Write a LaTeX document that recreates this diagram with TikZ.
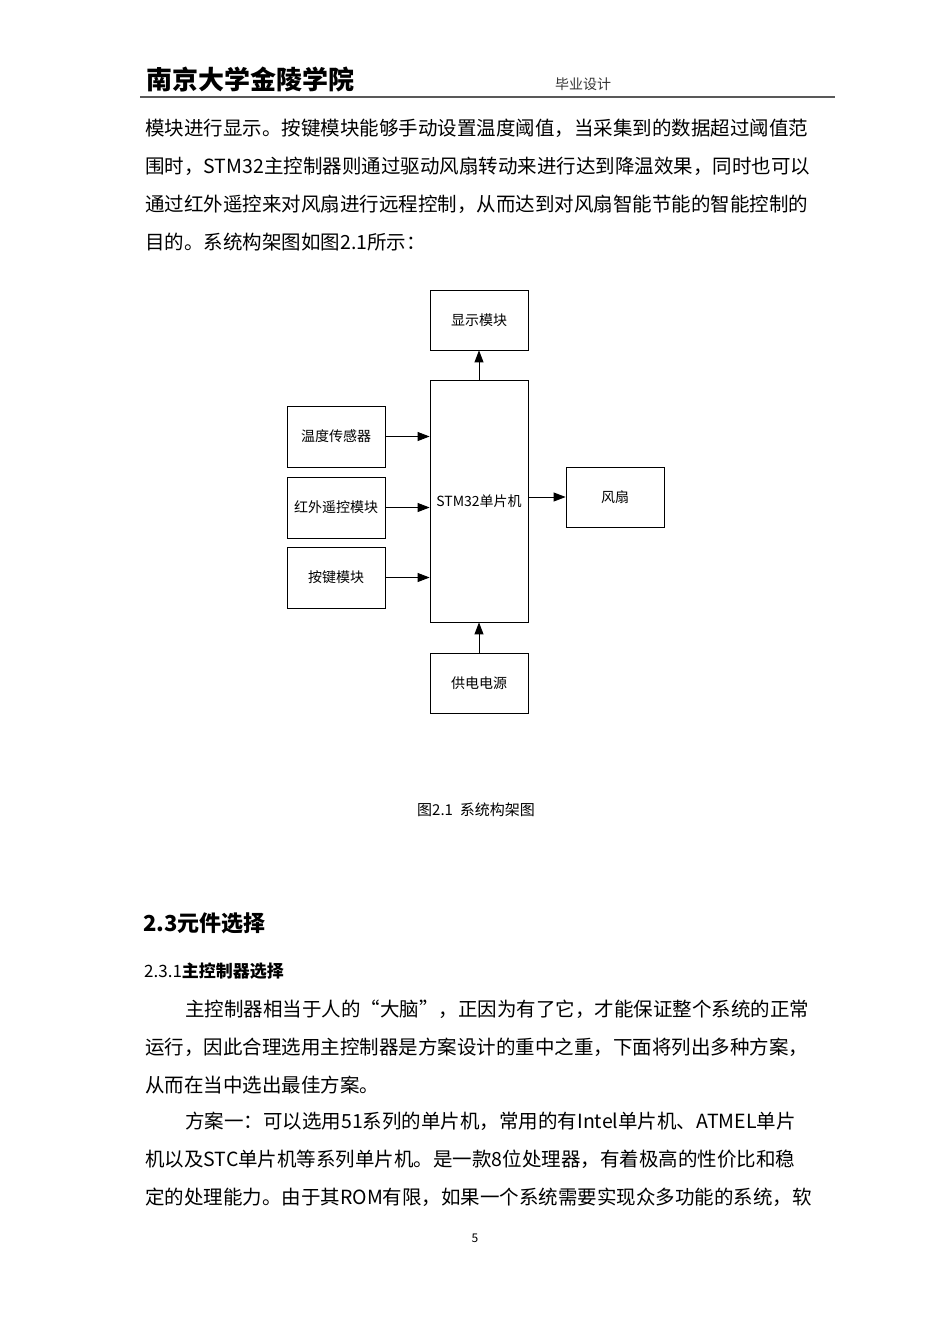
\documentclass[tikz,border=0pt]{standalone}
\usepackage{fontspec}
\setmainfont{Noto Sans CJK SC}
\usetikzlibrary{arrows.meta}
\begin{document}
\begin{tikzpicture}[x=1pt,y=-1pt,
 blk/.style={draw,line width=0.8pt,inner sep=0pt,font=\fontsize{14}{16}\selectfont},
 arr/.style={-{Triangle[length=12pt,width=9pt]},line width=0.9pt},
 body/.style={anchor=west,inner sep=0pt,font=\fontsize{19.5}{22}\selectfont}]
\useasboundingbox[fill=white] (0,0) rectangle (950,1344);
% header
\node[anchor=west,inner sep=0pt,font=\fontsize{26}{28}\selectfont\bfseries] (hd) at (146,80) {南京大学金陵学院};
\node[inner sep=0pt,font=\fontsize{14}{16}\selectfont,text=black!80] (hs) at (583,84) {毕业设计};
\draw[line width=1.6pt,black!65] (140,97) -- (835,97);
% body text
\node[body] (t1) at (145,128) {模块进行显示。按键模块能够手动设置温度阈值，当采集到的数据超过阈值范};
\node[body] (t2) at (145,166) {围时，STM32主控制器则通过驱动风扇转动来进行达到降温效果，同时也可以};
\node[body] (t3) at (145,204) {通过红外遥控来对风扇进行远程控制，从而达到对风扇智能节能的智能控制的};
\node[body] (t4) at (145,242) {目的。系统构架图如图2.1所示：};
% diagram
\node[blk,minimum width=98pt,minimum height=60pt] (disp) at (479,320) {显示模块};
\node[blk,minimum width=98pt,minimum height=242pt] (mcu) at (479,501) {STM32单片机};
\node[blk,minimum width=98pt,minimum height=61pt] (temp) at (336,436.5) {温度传感器};
\node[blk,minimum width=98pt,minimum height=61pt] (ir) at (336,507.5) {红外遥控模块};
\node[blk,minimum width=98pt,minimum height=61pt] (key) at (336,577.5) {按键模块};
\node[blk,minimum width=98pt,minimum height=60pt] (fan) at (615,497) {风扇};
\node[blk,minimum width=98pt,minimum height=60pt] (pwr) at (479,683) {供电电源};
\draw[arr] (mcu.north) -- (disp.south);
\draw[arr] (temp.east) -- (temp.east -| mcu.west);
\draw[arr] (ir.east) -- (ir.east -| mcu.west);
\draw[arr] (key.east) -- (key.east -| mcu.west);
\draw[arr] (mcu.east |- fan.west) -- (fan.west);
\draw[arr] (pwr.north) -- (mcu.south);
\node[inner sep=0pt,font=\fontsize{15}{17}\selectfont] (cap) at (476,810) {图2.1\ \ 系统构架图};
% section
\node[anchor=west,inner sep=0pt,font=\fontsize{22}{24}\selectfont\bfseries] (s1) at (143,923) {2.3元件选择};
\node[anchor=west,inner sep=0pt,font=\fontsize{17}{19}\selectfont] (s2) at (144,971) {2.3.1\textbf{主控制器选择}};
\node[body] (p1) at (185,1009) {主控制器相当于人的“大脑”，正因为有了它，才能保证整个系统的正常};
\node[body] (p2) at (145,1047) {运行，因此合理选用主控制器是方案设计的重中之重，下面将列出多种方案，};
\node[body] (p3) at (145,1085) {从而在当中选出最佳方案。};
\node[body] (p4) at (185,1121) {方案一：可以选用51系列的单片机，常用的有Intel单片机、ATMEL单片};
\node[body] (p5) at (145,1159) {机以及STC单片机等系列单片机。是一款8位处理器，有着极高的性价比和稳};
\node[body] (p6) at (145,1197) {定的处理能力。由于其ROM有限，如果一个系统需要实现众多功能的系统，软};
\node[inner sep=0pt,font=\fontsize{12}{14}\selectfont] (pg) at (475,1238) {5};
\end{tikzpicture}
\end{document}
